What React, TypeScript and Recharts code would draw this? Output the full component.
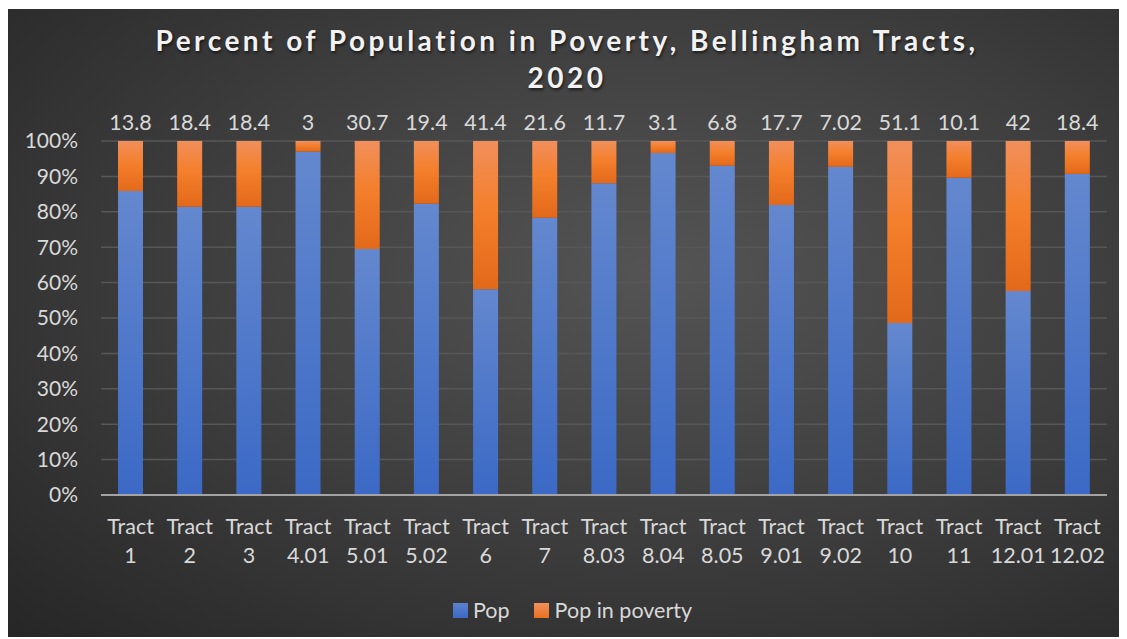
import { BarChart, Bar, XAxis, YAxis, CartesianGrid, LabelList } from "recharts";

// Tract names and shares
const tracts = ["1", "2", "3", "4.01", "5.01", "5.02", "6", "7", "8.03", "8.04", "8.05", "9.01", "9.02", "10", "11", "12.01", "12.02"];
const popShare = [85.9, 81.4, 81.4, 97.0, 69.5, 82.3, 58.1, 78.3, 88.1, 96.6, 93.0, 81.9, 92.7, 48.6, 89.6, 57.6, 90.7];
const povertyShare = [14.1, 18.6, 18.6, 3.0, 30.5, 17.7, 41.9, 21.7, 11.9, 3.4, 7.0, 18.1, 7.3, 51.4, 10.4, 42.4, 9.3];
// Labels printed above the bars
const povertyLabels = ["13.8", "18.4", "18.4", "3", "30.7", "19.4", "41.4", "21.6", "11.7", "3.1", "6.8", "17.7", "7.02", "51.1", "10.1", "42", "18.4"];
const yTicks = [0, 0.1, 0.2, 0.3, 0.4, 0.5, 0.6, 0.7, 0.8, 0.9, 1];

const data = tracts.map((t, i) => ({
  name: "Tract " + t,
  tract: t,
  pop: popShare[i],
  poverty: povertyShare[i],
  label: povertyLabels[i],
}));

const FONT = "Lato, 'Open Sans', sans-serif";
const TEXT = "#d9d9d9";

function TractTick(props: any) {
  const { x, y, payload } = props;
  const t = payload.value.replace("Tract ", "");
  return (
    <text x={x} textAnchor="middle" fill={TEXT} fontSize={21.5} fontFamily={FONT}>
      <tspan x={x} y={y + 39}>Tract</tspan>
      <tspan x={x} y={y + 68}>{t}</tspan>
    </text>
  );
}

function TopLabel(props: any) {
  const { x, y, width, index } = props;
  return (
    <text x={x + width / 2} y={y - 11} textAnchor="middle" fill={TEXT} fontSize={21.5} fontFamily={FONT}>
      {povertyLabels[index]}
    </text>
  );
}

export default function App() {
  return (
    <div
      style={{
        position: "relative",
        marginLeft: -1,
        marginTop: 1,
        width: 1120,
        height: 628,
        background: "radial-gradient(ellipse at 58% 42%, #545454 0%, #3e3e3e 50%, #262626 100%)",
        fontFamily: FONT,
      }}
    >
      <div
        style={{
          position: "absolute",
          top: 13,
          left: 0,
          width: "100%",
          textAlign: "center",
          color: "#f2f2f2",
          fontSize: 28,
          fontWeight: 700,
          lineHeight: "37px",
          letterSpacing: 3.5,
          textShadow: "1px 2px 3px rgba(0,0,0,0.6)",
        }}
      >
        Percent of Population in Poverty, Bellingham Tracts,
        <br />
        2020
      </div>
      <BarChart
        width={1120}
        height={628}
        data={data}
        stackOffset="expand"
        margin={{ top: 132, right: 20, bottom: 72, left: 24 }}
        style={{ position: "absolute", top: 0, left: 0 }}
      >
        <defs>
          <linearGradient id="gBlue" x1="0" y1="0" x2="0" y2="1">
            <stop offset="0%" stopColor="#6488cf" />
            <stop offset="100%" stopColor="#3b69c5" />
          </linearGradient>
          <linearGradient id="gOrange" x1="0" y1="0" x2="0" y2="1">
            <stop offset="0%" stopColor="#f18f5b" />
            <stop offset="45%" stopColor="#f47f2c" />
            <stop offset="100%" stopColor="#e3691a" />
          </linearGradient>
        </defs>
        <CartesianGrid vertical={false} stroke="#575757" strokeWidth={1.5} />
        <XAxis
          dataKey="name"
          interval={0}
          tickLine={false}
          tickSize={0}
          tickMargin={0}
          height={70}
          axisLine={{ stroke: "#a3a3a3", strokeWidth: 2 }}
          tick={<TractTick />}
        />
        <YAxis
          width={70}
          ticks={yTicks}
          domain={[0, 1]}
          tickLine={false}
          axisLine={false}
          tickSize={0}
          tickMargin={23}
          tickFormatter={(v: number) => Math.round(v * 100) + "%"}
          tick={{ fill: TEXT, fontSize: 21, fontFamily: FONT }}
        />
        <Bar dataKey="pop" name="Pop" stackId="a" fill="url(#gBlue)" barSize={25} isAnimationActive={false} />
        <Bar dataKey="poverty" name="Pop in poverty" stackId="a" fill="url(#gOrange)" barSize={25} isAnimationActive={false}>
          <LabelList dataKey="label" content={<TopLabel />} />
        </Bar>
      </BarChart>
      <div
        style={{
          position: "absolute",
          left: 446,
          top: 589,
          display: "flex",
          alignItems: "center",
          color: TEXT,
          fontSize: 21.5,
          lineHeight: "24px",
        }}
      >
        <span style={{ width: 15, height: 15, background: "linear-gradient(#5b82cd, #3b69c5)", marginRight: 5 }} />
        <span style={{ marginRight: 24 }}>Pop</span>
        <span style={{ width: 15, height: 15, background: "linear-gradient(#f18f5b, #e8711f)", marginRight: 6 }} />
        <span>Pop in poverty</span>
      </div>
    </div>
  );
}
